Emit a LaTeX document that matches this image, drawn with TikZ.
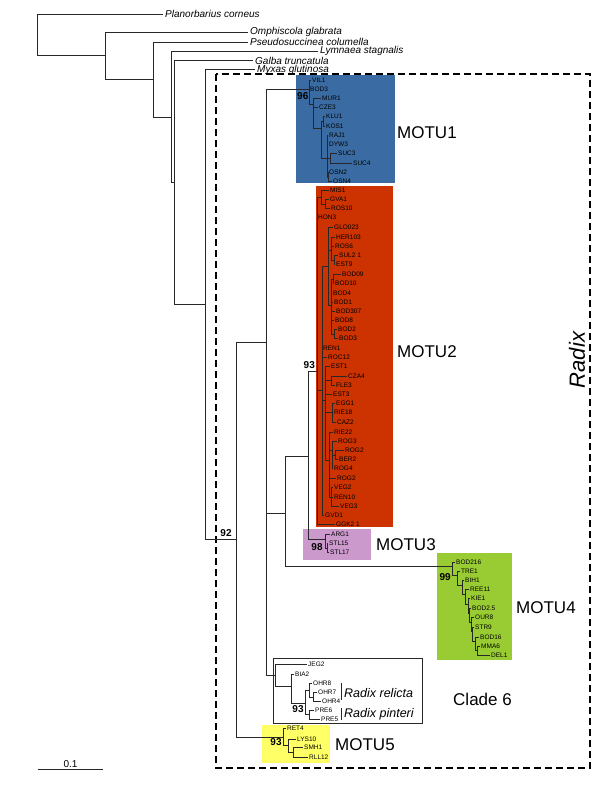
\documentclass[tikz,border=0pt]{standalone}
\usepackage{fontspec}
\setmainfont{Liberation Sans}
\definecolor{mblue}{RGB}{58,108,163}
\definecolor{mred}{RGB}{204,51,0}
\definecolor{mpurple}{RGB}{204,153,204}
\definecolor{mgreen}{RGB}{153,204,51}
\definecolor{myellow}{RGB}{255,255,102}
\definecolor{ln}{RGB}{40,40,40}
\tikzset{
  br/.style={draw=ln, line width=0.8pt},
  tip/.style={anchor=west, inner sep=1pt, font=\fontsize{6.5}{7}\selectfont},
  og/.style={anchor=west, inner sep=2pt, font=\fontsize{10}{10}\selectfont\itshape},
  bs/.style={anchor=base, inner sep=0pt, font=\fontsize{10}{10}\selectfont\bfseries},
  motu/.style={anchor=west, inner sep=0pt, font=\fontsize{17}{17}\selectfont},
  sp/.style={anchor=west, inner sep=0pt, font=\fontsize{12.5}{13}\selectfont\itshape},
  dbox/.style={draw=black, line width=1.5pt, dash pattern=on 7pt off 4pt},
}
\newcommand\tipb[5]{\node[tip] (#1) at (#3,#4) {#5}; \draw[br] (#2,#4) -- (#1.west);}
\begin{document}
\begin{tikzpicture}[x=1pt,y=-1pt]
\useasboundingbox (0,0) rectangle (600,788);
\fill[white] (0,0) rectangle (600,788);
% coloured boxes
\fill[mblue] (296,75) rectangle (395,183);
\fill[mred] (316,186) rectangle (393,527);
\fill[mpurple] (303,529) rectangle (371,560);
\fill[mgreen] (437,553) rectangle (512,660);
\fill[myellow] (262,725) rectangle (330,763);
\draw[ln, line width=0.7pt] (273,658) rectangle (422,723);
\draw[dbox] (216,74) rectangle (590,768);
% outgroups
\draw[br] (37,14) -- (37,55);
\node[og] (pla) at (163,14) {Planorbarius corneus}; \draw[br] (37,14) -- (pla.west);
\draw[br] (37,55) -- (105,55);
\draw[br] (105,32) -- (105,79);
\node[og] (omp) at (248,32) {Omphiscola glabrata}; \draw[br] (105,32) -- (omp.west);
\draw[br] (105,79) -- (153,79);
\draw[br] (153,42) -- (153,117);
\node[og] (pse) at (248,42) {Pseudosuccinea columella}; \draw[br] (153,42) -- (pse.west);
\draw[br] (153,117) -- (171,117);
\draw[br] (171,51) -- (171,182);
\node[og] (lym) at (318,51) {Lymnaea stagnalis}; \draw[br] (171,51) -- (lym.west);
\draw[br] (171,182) -- (174,182);
\draw[br] (174,61) -- (174,304);
\node[og] (gal) at (253,60.5) {Galba truncatula}; \draw[br] (174,60.5) -- (gal.west);
\draw[br] (174,304) -- (205,304);
\draw[br] (205,69.5) -- (205,539);
\node[og] (myx) at (255,69.5) {Myxas glutinosa}; \draw[br] (205,69.5) -- (myx.west);
% backbone of Radix
\draw[br] (205,539) -- (236,539);
\draw[br] (236,342) -- (236,737);
\draw[br] (236,342) -- (266,342);
\draw[br] (266,89) -- (266,675);
\draw[br] (266,89) -- (309,89);
\draw[br] (266,513) -- (285,513);
\draw[br] (285,456) -- (285,566);
\draw[br] (285,456) -- (308,456);
\draw[br] (308,371) -- (308,539);
\draw[br] (308,371) -- (317,371);
\draw[br] (308,539) -- (325,539);
\draw[br] (285,566) -- (452,566);
\draw[br] (266,675) -- (275,675);
\draw[br] (236,737) -- (283,737);
% MOTU1
\draw[br] (309,80) -- (309,104);
\tipb{vil}{309}{311}{80}{VIL1}
\tipb{bodA}{309}{309}{89}{BOD3}
\draw[br] (309,104) -- (313,104);
\draw[br] (313,98) -- (313,128);
\tipb{mur}{313}{321}{98}{MUR1}
\tipb{cze}{313}{318}{107}{CZE3}
\draw[br] (313,128) -- (321,128);
\draw[br] (321,121) -- (321,158);
\draw[br] (321,121) -- (323,121);
\draw[br] (323,116) -- (323,126);
\tipb{klu}{323}{325}{116}{KLU1}
\tipb{kos}{323}{325}{126}{KOS1}
\draw[br] (321,158) -- (327,158);
\draw[br] (327,135) -- (327,177);
\tipb{raj}{327}{328}{135}{RAJ1}
\tipb{dyw}{327}{328}{144}{DYW3}
\draw[br] (327,158) -- (330,158);
\draw[br] (330,153) -- (330,163);
\tipb{succ}{330}{337}{153}{SUC3}
\tipb{sucd}{330}{352}{163}{SUC4}
\draw[br] (327,177) -- (328,177);
\draw[br] (328,172) -- (328,181);
\tipb{osnb}{328}{328}{172}{OSN2}
\tipb{osnd}{328}{332}{181}{OSN4}
% MOTU2
\draw[br] (317,197) -- (317,524);
\draw[br] (317,197) -- (321,197);
\draw[br] (321,190) -- (321,204);
\tipb{mis}{321}{329}{190}{MIS1}
\draw[br] (321,204) -- (325,204);
\draw[br] (325,199) -- (325,208);
\tipb{gva}{325}{329}{199}{GVA1}
\tipb{rosx}{325}{330}{208}{ROS10}
\tipb{hon}{317}{317}{217}{HON3}
\draw[br] (317,390) -- (322,390);
\draw[br] (322,266) -- (322,515);
\draw[br] (322,266) -- (328,266);
\draw[br] (328,227) -- (328,305);
\tipb{glo}{328}{333}{227}{GLO023}
\draw[br] (328,250) -- (331,250);
\draw[br] (331,237) -- (331,260);
\tipb{her}{331}{335}{237}{HER103}
\tipb{rosf}{331}{334}{246}{ROS6}
\draw[br] (331,260) -- (334,260);
\draw[br] (334,255) -- (334,264);
\tipb{sul}{334}{338}{255}{SUL2 1}
\tipb{estn}{334}{335}{264}{EST9}
\draw[br] (328,305) -- (331,305);
\draw[br] (331,279) -- (331,334);
\draw[br] (331,279) -- (333,279);
\draw[br] (333,274) -- (333,283);
\tipb{bodn}{333}{341}{274}{BOD09}
\tipb{bodt}{333}{334}{283}{BOD10}
\tipb{bodf}{331}{332}{293}{BOD4}
\tipb{bodo}{331}{333}{302}{BOD1}
\tipb{bods}{331}{335}{311}{BOD307}
\tipb{bode}{331}{334}{320}{BOD8}
\draw[br] (331,334) -- (334,334);
\draw[br] (334,329) -- (334,338);
\tipb{bodw}{334}{337}{329}{BOD2}
\tipb{bodB}{334}{338}{338}{BOD3}
\tipb{renone}{322}{322}{348}{REN1}
\tipb{roc}{322}{327}{357}{ROC12}
\draw[br] (322,400) -- (325,400);
\draw[br] (325,366) -- (325,460);
\tipb{esto}{325}{330}{366}{EST1}
\draw[br] (325,380) -- (331,380);
\draw[br] (331,376) -- (331,385);
\tipb{cza}{331}{347}{376}{CZA4}
\tipb{fle}{331}{335}{385}{FLE3}
\tipb{estt}{325}{332}{394}{EST3}
\draw[br] (325,412) -- (332,412);
\draw[br] (332,403) -- (332,422);
\tipb{egg}{332}{335}{403}{EGG1}
\tipb{riea}{332}{333}{412}{RIE18}
\tipb{caz}{332}{336}{422}{CAZ2}
\draw[br] (325,460) -- (329,460);
\draw[br] (329,432) -- (329,497);
\tipb{rieb}{329}{333}{432}{RIE22}
\draw[br] (329,450) -- (332,450);
\draw[br] (332,441) -- (332,468);
\tipb{rogt}{332}{337}{441}{ROG3}
\draw[br] (332,455) -- (335,455);
\draw[br] (335,450) -- (335,459);
\tipb{rogwa}{335}{344}{450}{ROG2}
\tipb{ber}{335}{338}{459}{BER2}
\tipb{rogf}{332}{333}{468}{ROG4}
\tipb{rogwb}{329}{336}{478}{ROG2}
\draw[br] (329,497) -- (331,497);
\draw[br] (331,487) -- (331,506);
\tipb{vegw}{331}{333}{487}{VEG2}
\tipb{rent}{331}{333}{497}{REN10}
\tipb{vegt}{331}{339}{506}{VEG3}
\tipb{gvd}{322}{324}{515}{GVD1}
\tipb{ggk}{317}{335}{524}{GGK2 1}
% MOTU3
\draw[br] (325,534) -- (325,548);
\tipb{arg}{325}{330}{534}{ARG1}
\draw[br] (325,548) -- (327,548);
\draw[br] (327,543) -- (327,552);
\tipb{stla}{327}{328}{543}{STL15}
\tipb{stlb}{327}{329}{552}{STL17}
% MOTU4
\draw[br] (452,562) -- (452,575);
\tipb{bodx}{452}{455}{562}{BOD216}
\draw[br] (452,575) -- (457,575);
\draw[br] (457,571) -- (457,585);
\tipb{tre}{457}{460}{571}{TRE1}
\draw[br] (457,585) -- (462,585);
\draw[br] (462,580) -- (462,594);
\tipb{bih}{462}{464}{580}{BIH1}
\draw[br] (462,594) -- (465,594);
\draw[br] (465,589) -- (465,604);
\tipb{ree}{465}{469}{589}{REE11}
\draw[br] (465,604) -- (468,604);
\draw[br] (468,598) -- (468,613);
\tipb{kie}{468}{470}{598}{KIE1}
\draw[br] (468,613) -- (469,613);
\draw[br] (469,608) -- (469,622);
\tipb{bodh}{469}{471}{608}{BOD2.5}
\draw[br] (469,622) -- (471,622);
\draw[br] (471,617) -- (471,631);
\tipb{our}{471}{474}{617}{OUR8}
\draw[br] (471,631) -- (472,631);
\draw[br] (472,627) -- (472,641);
\tipb{str}{472}{474}{627}{STR9}
\draw[br] (472,641) -- (475,641);
\draw[br] (475,637) -- (475,650);
\tipb{bodsx}{475}{479}{637}{BOD16}
\draw[br] (475,650) -- (477,650);
\draw[br] (477,646) -- (477,655);
\tipb{mma}{477}{480}{646}{MMA6}
\tipb{del}{477}{490}{655}{DEL1}
% Clade 6
\draw[br] (275,664) -- (275,686);
\tipb{jeg}{275}{307}{664}{JEG2}
\draw[br] (275,686) -- (291,686);
\draw[br] (291,674) -- (291,703);
\tipb{bia}{291}{294}{674}{BIA2}
\draw[br] (291,703) -- (305,703);
\draw[br] (305,690) -- (305,714);
\draw[br] (305,690) -- (309,690);
\draw[br] (309,683) -- (309,697);
\tipb{ohre}{309}{312}{683}{OHR8}
\draw[br] (309,697) -- (313,697);
\draw[br] (313,692) -- (313,701);
\tipb{ohrs}{313}{317}{692}{OHR7}
\tipb{ohrf}{313}{321}{701}{OHR4}
\draw[br] (305,714) -- (309,714);
\draw[br] (309,710) -- (309,719);
\tipb{pres}{309}{314}{710}{PRE6}
\tipb{pref}{309}{320}{719}{PRE5}
\draw[br] (341,683) -- (341,700);
\draw[br] (341,708) -- (341,720);
\node[sp] (rel) at (344,693) {Radix relicta};
\node[sp] (pin) at (344,714) {Radix pinteri};
% MOTU5
\draw[br] (283,728) -- (283,745);
\tipb{ret}{283}{286}{728}{RET4}
\draw[br] (283,745) -- (288,745);
\draw[br] (288,739) -- (288,752);
\tipb{lys}{288}{296}{739}{LYS10}
\draw[br] (288,752) -- (293,752);
\draw[br] (293,747) -- (293,757);
\tipb{smh}{293}{303}{747}{SMH1}
\tipb{rll}{293}{308}{757}{RLL12}
% bootstrap values
\node[bs] (bsa) at (302.8,99.3) {96};
\node[bs] (bsb) at (309.3,368.3) {93};
\node[bs] (bsc) at (317,550.7) {98};
\node[bs] (bsd) at (445.2,580.7) {99};
\node[bs] (bse) at (226,536) {92};
\node[bs] (bsf) at (298,712) {93};
\node[bs] (bsg) at (276,745.7) {93};
% group labels
\node[motu] (mo1) at (397,133) {MOTU1};
\node[motu] (mo2) at (397,352) {MOTU2};
\node[motu] (mo3) at (376,545) {MOTU3};
\node[motu] (mo4) at (516,608) {MOTU4};
\node[motu] (mo5) at (335,745) {MOTU5};
\node[motu] (cl6) at (453,699) {Clade 6};
\node[rotate=90, inner sep=0pt, font=\fontsize{22}{22}\selectfont\itshape] (rad) at (577,360) {Radix};
% scale bar
\draw[br] (38,769) -- (103,769);
\node[anchor=base, inner sep=0pt, font=\fontsize{10}{10}\selectfont] (sc) at (70.5,767) {0.1};
\end{tikzpicture}
\end{document}
